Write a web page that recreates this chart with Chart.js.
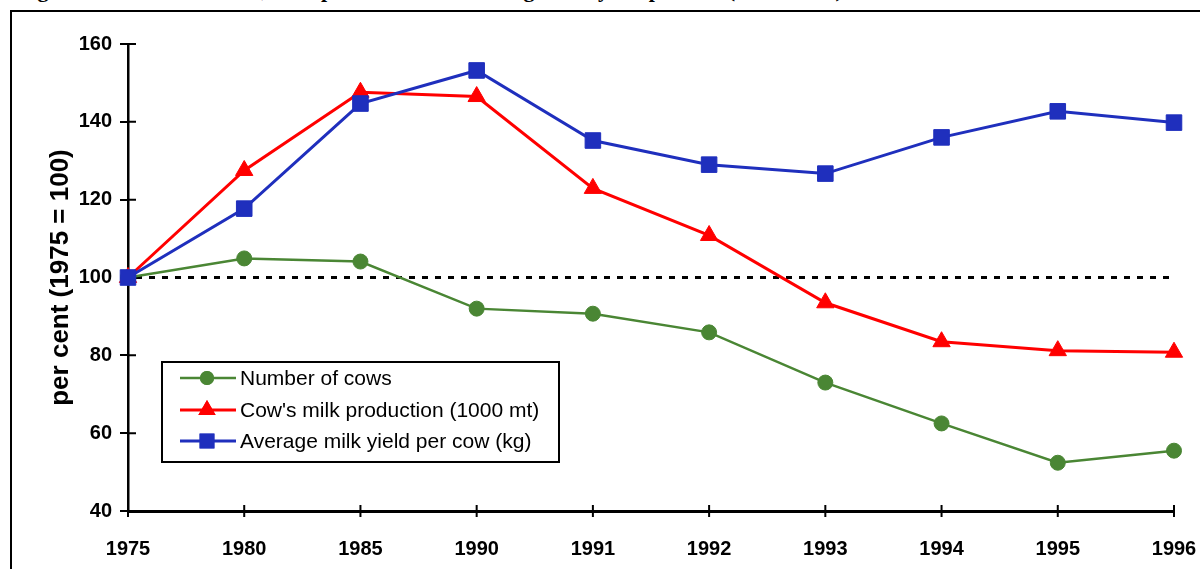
<!DOCTYPE html>
<html><head><meta charset="utf-8">
<script src="https://cdn.jsdelivr.net/npm/chart.js@4"></script>
<style>
html,body{margin:0;padding:0;background:#fff;overflow:hidden;}
#wrap{position:relative;width:1200px;height:569px;overflow:hidden;}
#frame{position:absolute;left:10px;top:10px;width:1210px;height:620px;border:2.5px solid #000;box-sizing:border-box;}
#title{position:absolute;left:18px;top:-21.5px;font:bold 22px 'Liberation Serif';line-height:22px;white-space:nowrap;color:#000;}
canvas{position:absolute;left:0;top:0;}
</style></head>
<body><div id="wrap"><div id="title">Figure 2: Number of cows, milk production and average milk yield per cow (1975 = 100)</div><div id="frame"></div><canvas id="c" width="1200" height="569"></canvas></div>
<script>
const categories = ['1975','1980','1985','1990','1991','1992','1993','1994','1995','1996'];
const cows = [100, 104.9, 104.1, 92.0, 90.7, 85.9, 73.0, 62.5, 52.4, 55.5];
const milkProduction = [100, 127.5, 147.6, 146.5, 122.9, 110.8, 93.5, 83.5, 81.2, 80.8];
const milkYield = [100, 117.7, 144.7, 153.2, 135.2, 129.0, 126.7, 136.0, 142.7, 139.8];
const seriesLabels = ['Number of cows', "Cow's milk production (1000 mt)", 'Average milk yield per cow (kg)'];
const yMin = 40, yMax = 160, yStep = 20;
const baseline = 100;

const GREEN = '#4a8634', RED = '#ff0000', BLUE = '#1f2fbd';

const crossTicks = {
  id: 'crossTicks',
  beforeDatasetsDraw(chart) {
    const {ctx, chartArea: a, scales: {x, y}} = chart;
    ctx.save();
    ctx.strokeStyle = '#000';
    ctx.lineWidth = 2;
    ctx.beginPath();
    y.ticks.forEach(t => { const py = y.getPixelForValue(t.value); ctx.moveTo(a.left, py); ctx.lineTo(a.left + 8, py); });
    x.ticks.forEach((t, i) => { const px = x.getPixelForTick(i); ctx.moveTo(px, a.bottom + 6); ctx.lineTo(px, a.bottom - 6); });
    ctx.stroke();
    // reference line at baseline
    const py = y.getPixelForValue(baseline);
    ctx.setLineDash([6, 7]);
    ctx.lineWidth = 3;
    ctx.beginPath();
    ctx.moveTo(a.left + 8, py);
    ctx.lineTo(a.right, py);
    ctx.stroke();
    ctx.restore();
  }
};

const boxLegend = {
  id: 'boxLegend',
  afterDraw(chart) {
    const ctx = chart.ctx;
    const bx = 162, by = 362, bw = 397, bh = 100;
    ctx.save();
    ctx.fillStyle = '#fff';
    ctx.fillRect(bx, by, bw, bh);
    ctx.strokeStyle = '#000';
    ctx.lineWidth = 2;
    ctx.strokeRect(bx, by, bw, bh);
    const rows = [378, 410, 441];
    [0, 1, 2].forEach((di, r) => {
      const ds = chart.data.datasets[di];
      const cy = rows[r];
      ctx.strokeStyle = ds.borderColor;
      ctx.lineWidth = ds.borderWidth;
      ctx.beginPath(); ctx.moveTo(180, cy); ctx.lineTo(236, cy); ctx.stroke();
      ctx.fillStyle = ds.backgroundColor;
      Chart.helpers.drawPoint(ctx, {pointStyle: ds.pointStyle, radius: ds.legendRadius, borderWidth: 0}, 207, cy);
      ctx.fill();
      ctx.fillStyle = '#000';
      ctx.font = "21px 'Liberation Sans'";
      ctx.textBaseline = 'middle';
      ctx.textAlign = 'left';
      ctx.fillText(ds.label, 240, cy + 1);
    });
    ctx.restore();
  }
};

new Chart(document.getElementById('c'), {
  type: 'line',
  data: {
    labels: categories,
    datasets: [
      {label: seriesLabels[0], data: cows, borderColor: GREEN, backgroundColor: GREEN, borderWidth: 2.5,
       pointStyle: 'circle', pointRadius: 7.5, pointHoverRadius: 7.5, pointBorderWidth: 1, legendRadius: 7, order: 2},
      {label: seriesLabels[1], data: milkProduction, borderColor: RED, backgroundColor: RED, borderWidth: 3,
       pointStyle: 'triangle', pointRadius: 10, pointHoverRadius: 10, pointBorderWidth: 1, legendRadius: 10, order: 1},
      {label: seriesLabels[2], data: milkYield, borderColor: BLUE, backgroundColor: BLUE, borderWidth: 3,
       pointStyle: 'rect', pointRadius: 11, pointHoverRadius: 11, pointBorderWidth: 1, legendRadius: 10.5, order: 0}
    ]
  },
  options: {
    responsive: false,
    animation: false,
    devicePixelRatio: 1,
    layout: {padding: {left: 0, right: 26, top: 44, bottom: 0}},
    plugins: {legend: {display: false}, tooltip: {enabled: false}, title: {display: false}},
    elements: {line: {tension: 0}},
    scales: {
      x: {
        type: 'category', offset: false,
        grid: {drawOnChartArea: false, drawTicks: true, tickLength: 24, color: '#000', tickColor: 'rgba(0,0,0,0)', lineWidth: 2},
        border: {display: true, color: '#000', width: 3},
        ticks: {color: '#000', font: {family: 'Liberation Sans', size: 20, weight: 'bold'}, padding: 2, maxRotation: 0, autoSkip: false},
        afterFit(s) { s.height = 58; }
      },
      y: {
        min: yMin, max: yMax,
        grid: {drawOnChartArea: false, drawTicks: true, tickLength: 8, color: '#000', lineWidth: 2},
        border: {display: true, color: '#000', width: 2.5},
        ticks: {stepSize: yStep, color: '#000', font: {family: 'Liberation Sans', size: 20, weight: 'bold'}, padding: 8},
        title: {display: true, text: 'per cent (1975 = 100)', color: '#000', font: {family: 'Liberation Sans', size: 26, weight: 'bold'}, padding: {top: 45, bottom: 0}},
        afterFit(s) { s.width = 128; }
      }
    }
  },
  plugins: [crossTicks, boxLegend]
});
</script>
</body></html>
